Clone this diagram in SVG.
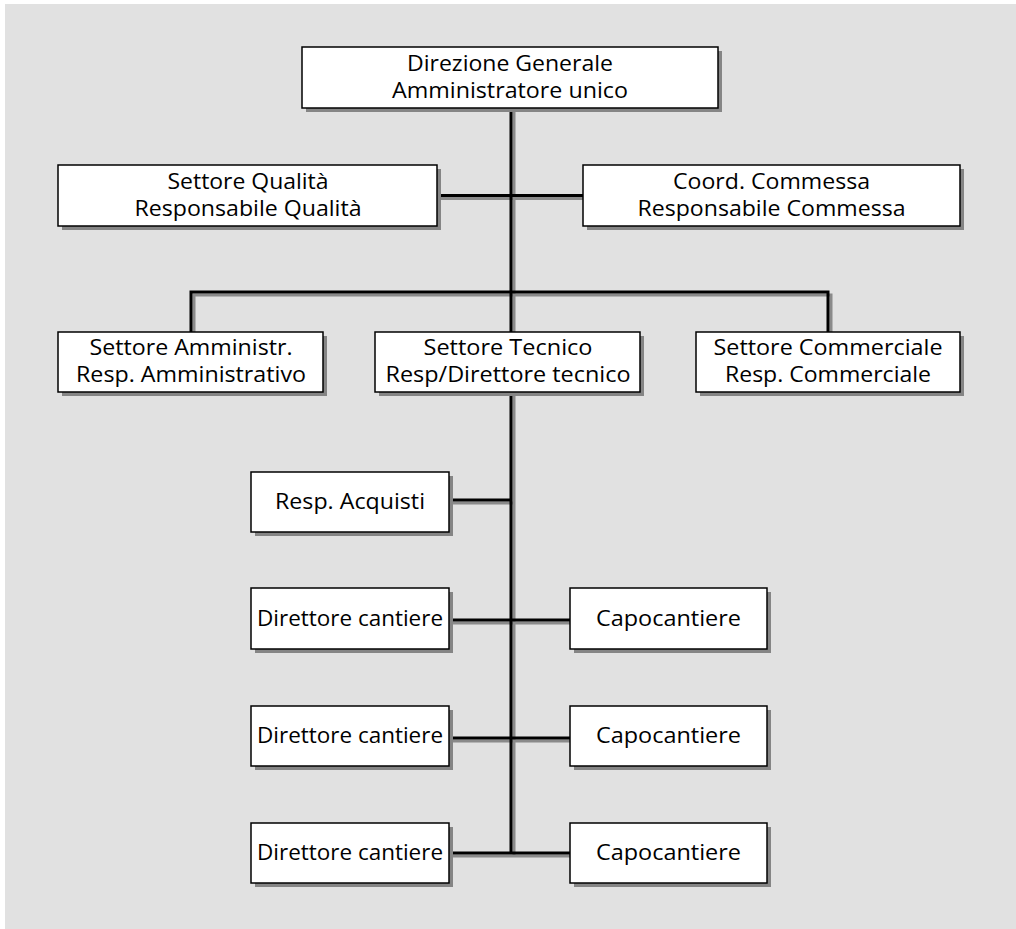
<svg xmlns="http://www.w3.org/2000/svg" width="1016" height="929" viewBox="0 0 1016 929">
<style>
.bx{fill:#ffffff;stroke:#000000;stroke-width:1.5}
.sh{fill:#858585}
.ln{fill:none;stroke:#000000;stroke-width:3;stroke-linecap:square}
.ls{fill:none;stroke:#8a8a8a;stroke-width:3;stroke-linecap:square}
text{font-family:"Open Sans","Noto Sans","Liberation Sans",sans-serif;font-size:21px;fill:#000000;text-anchor:middle}
</style>
<rect x="0" y="0" width="1016" height="929" fill="#ffffff"/>
<rect x="5" y="4" width="1011" height="925" fill="#e1e1e1"/>
<g id="connectors">
<g transform="translate(3,3)">
<path class="ls" d="M511,108 V853 M437,195.5 H583 M191,292 H828 M191,292 V332 M828,292 V332 M449,500 H511 M449,620 H570 M449,738 H570 M449,853 H570"/>
</g>
<path class="ln" d="M511,108 V332 M511,392 V853 M437,195.5 H583 M191,292 H828 M191,292 V332 M828,292 V332 M449,500 H511 M449,620 H570 M449,738 H570 M449,853 H570"/>
</g>
<g id="n-direzione">
<rect class="sh" x="306" y="51" width="416" height="61"/>
<rect class="bx" x="302" y="47" width="416" height="61"/>
<text x="510" y="71" textLength="206" lengthAdjust="spacingAndGlyphs">Direzione Generale</text>
<text x="510" y="98" textLength="236" lengthAdjust="spacingAndGlyphs">Amministratore unico</text>
</g>
<g id="n-qualita">
<rect class="sh" x="62" y="169" width="379" height="61"/>
<rect class="bx" x="58" y="165" width="379" height="61"/>
<text x="248" y="189" textLength="161" lengthAdjust="spacingAndGlyphs">Settore Qualità</text>
<text x="248" y="216" textLength="227" lengthAdjust="spacingAndGlyphs">Responsabile Qualità</text>
</g>
<g id="n-commessa">
<rect class="sh" x="587" y="169" width="377" height="61"/>
<rect class="bx" x="583" y="165" width="377" height="61"/>
<text x="771.5" y="189" textLength="197" lengthAdjust="spacingAndGlyphs">Coord. Commessa</text>
<text x="771.5" y="216" textLength="268" lengthAdjust="spacingAndGlyphs">Responsabile Commessa</text>
</g>
<g id="n-amministr">
<rect class="sh" x="62" y="336" width="265" height="60"/>
<rect class="bx" x="58" y="332" width="265" height="60"/>
<text x="191" y="355" textLength="203" lengthAdjust="spacingAndGlyphs">Settore Amministr.</text>
<text x="191" y="382" textLength="230" lengthAdjust="spacingAndGlyphs">Resp. Amministrativo</text>
</g>
<g id="n-tecnico">
<rect class="sh" x="379" y="336" width="265" height="60"/>
<rect class="bx" x="375" y="332" width="265" height="60"/>
<text x="508" y="355" textLength="169" lengthAdjust="spacingAndGlyphs">Settore Tecnico</text>
<text x="508" y="382" textLength="245" lengthAdjust="spacingAndGlyphs">Resp/Direttore tecnico</text>
</g>
<g id="n-commerciale">
<rect class="sh" x="700" y="336" width="264" height="60"/>
<rect class="bx" x="696" y="332" width="264" height="60"/>
<text x="828" y="355" textLength="229" lengthAdjust="spacingAndGlyphs">Settore Commerciale</text>
<text x="828" y="382" textLength="206" lengthAdjust="spacingAndGlyphs">Resp. Commerciale</text>
</g>
<g id="n-acquisti">
<rect class="sh" x="255" y="476" width="198" height="60"/>
<rect class="bx" x="251" y="472" width="198" height="60"/>
<text x="350" y="509" textLength="150" lengthAdjust="spacingAndGlyphs">Resp. Acquisti</text>
</g>
<g id="n-direttore1">
<rect class="sh" x="255" y="592" width="198" height="61"/>
<rect class="bx" x="251" y="588" width="198" height="61"/>
<text x="350" y="626" textLength="186" lengthAdjust="spacingAndGlyphs">Direttore cantiere</text>
</g>
<g id="n-capo1">
<rect class="sh" x="574" y="592" width="197" height="61"/>
<rect class="bx" x="570" y="588" width="197" height="61"/>
<text x="668.5" y="626" textLength="145" lengthAdjust="spacingAndGlyphs">Capocantiere</text>
</g>
<g id="n-direttore2">
<rect class="sh" x="255" y="710" width="198" height="60"/>
<rect class="bx" x="251" y="706" width="198" height="60"/>
<text x="350" y="743" textLength="186" lengthAdjust="spacingAndGlyphs">Direttore cantiere</text>
</g>
<g id="n-capo2">
<rect class="sh" x="574" y="710" width="197" height="60"/>
<rect class="bx" x="570" y="706" width="197" height="60"/>
<text x="668.5" y="743" textLength="145" lengthAdjust="spacingAndGlyphs">Capocantiere</text>
</g>
<g id="n-direttore3">
<rect class="sh" x="255" y="827" width="198" height="60"/>
<rect class="bx" x="251" y="823" width="198" height="60"/>
<text x="350" y="860" textLength="186" lengthAdjust="spacingAndGlyphs">Direttore cantiere</text>
</g>
<g id="n-capo3">
<rect class="sh" x="574" y="827" width="197" height="60"/>
<rect class="bx" x="570" y="823" width="197" height="60"/>
<text x="668.5" y="860" textLength="145" lengthAdjust="spacingAndGlyphs">Capocantiere</text>
</g>
</svg>
